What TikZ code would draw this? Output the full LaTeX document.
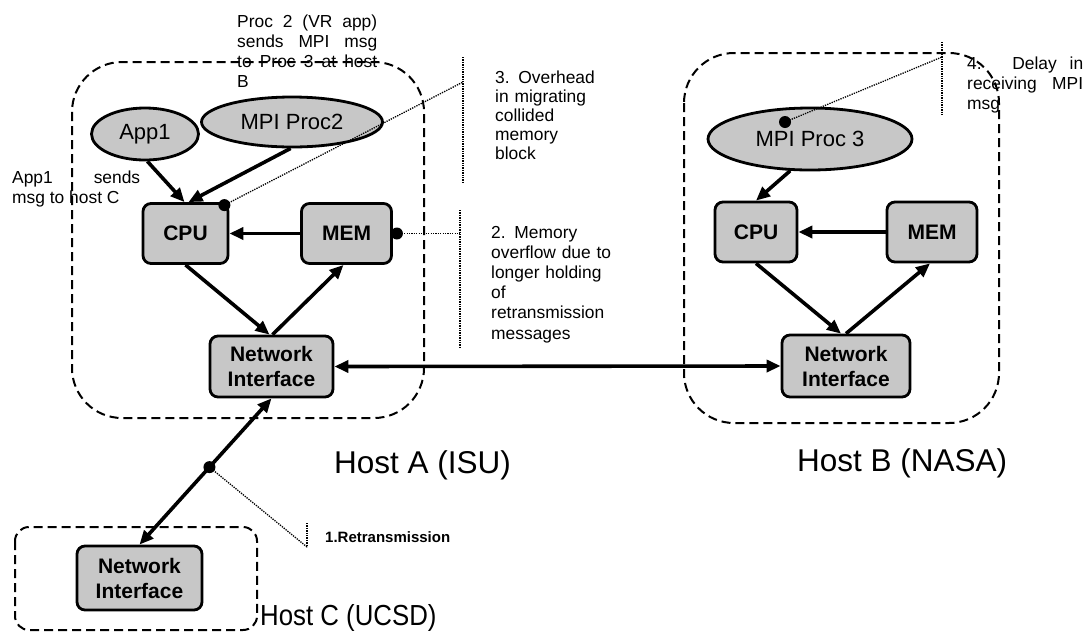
\documentclass[tikz,border=0pt]{standalone}
\usepackage{fontspec}
\usepackage{graphicx}
\setmainfont{Liberation Sans}
\usetikzlibrary{arrows.meta,shapes.geometric,calc}

\tikzset{
  unit/.style={draw, line width=2.8pt, fill=black!22, rounded corners=8pt,
    font=\fontsize{21}{25}\selectfont\bfseries, align=center, inner sep=0pt},
  proc/.style={ellipse, draw, line width=2.8pt, fill=black!22,
    font=\fontsize{22}{26}\selectfont, inner sep=0pt},
  link/.style={line width=3.6pt, -{Triangle[length=14pt,width=12pt]}},
  duplex/.style={line width=3.6pt,
    {Triangle[length=14pt,width=12pt]}-{Triangle[length=14pt,width=12pt]}},
  hostbox/.style={line width=2pt, dash pattern=on 9pt off 5pt},
  leader/.style={line width=1.3pt, dash pattern=on 1.3pt off 1.1pt},
  marker/.style={circle, fill=black, inner sep=0pt, minimum size=12pt},
  note/.style={font=\fontsize{17.4}{20}\selectfont, inner sep=0pt, anchor=base west},
  hostlabel/.style={font=\fontsize{31.5}{36}\selectfont, inner sep=0pt, anchor=west},
}

\begin{document}
\begin{tikzpicture}[x=1pt, y=-1pt]
\useasboundingbox (0,0) rectangle (1086,641);
\tolerance=10000

% host enclosures
\draw[hostbox, rounded corners=50pt] (72,62) rectangle (424,418);
\draw[hostbox, rounded corners=50pt] (684,53) rectangle (999,423);
\draw[hostbox, rounded corners=14pt] (15,527) rectangle (257,630);

% Host A
\node[proc, minimum width=107pt, minimum height=52pt] (app1) at (145,134) {App1};
\node[proc, minimum width=181pt, minimum height=50pt] (proc2) at (292,122) {MPI Proc2};
\node[unit, minimum width=85pt, minimum height=60pt] (cpuA) at (185.5,233.5) {CPU};
\node[unit, minimum width=90pt, minimum height=60pt] (memA) at (346.5,233.5) {MEM};
\node[unit, minimum width=123pt, minimum height=61pt] (netA) at (271.5,366.5) {Network\\Interface};

% Host B
\node[proc, minimum width=204pt, minimum height=62pt] (proc3) at (810,139) {MPI Proc 3};
\node[unit, minimum width=82pt, minimum height=60pt] (cpuB) at (756,232) {CPU};
\node[unit, minimum width=90pt, minimum height=60pt] (memB) at (932,232) {MEM};
\node[unit, minimum width=128pt, minimum height=62pt] (netB) at (846,366) {Network\\Interface};

% Host C
\node[unit, minimum width=125pt, minimum height=64pt] (netC) at (139.5,578) {Network\\Interface};

% data paths
\draw[link] (app1.-85) -- ([xshift=-1pt]cpuA.north);
\draw[link] (proc2.-93) -- ([xshift=3pt]cpuA.north);
\draw[link] (memA.west) -- (cpuA.east);
\draw[link] (cpuA.south) -- ([xshift=-2pt]netA.north);
\draw[link] ([xshift=1pt]netA.north) -- ([xshift=-3pt]memA.south);
\draw[duplex] (netA.east) -- (netB.west);
\draw[duplex] (netA.south) -- (netC.north);
\draw[link] (proc3.-122) -- (cpuB.north);
\draw[link] (memB.west) -- (cpuB.east);
\draw[link] (cpuB.south) -- ([xshift=-5pt]netB.north);
\draw[link] (netB.north) -- ([xshift=-2pt]memB.south);

% fault points and their callout leaders
\coordinate (m3) at ([xshift=-5pt,yshift=-3pt]cpuA.north east);
\coordinate (m2) at ([xshift=4pt]memA.east);
\coordinate (m4) at (785,122);
\coordinate (m1) at ($(netA.south)!0.47!(netC.north)$);

\coordinate (k3) at (463,82);  \coordinate (k3a) at (463,57);  \coordinate (k3b) at (463,183);
\coordinate (k2) at (460,233.5); \coordinate (k2a) at (460,210); \coordinate (k2b) at (460,348);
\coordinate (k4) at (942,57);  \coordinate (k4a) at (942,42);  \coordinate (k4b) at (942,115);
\coordinate (k1) at (307,547); \coordinate (k1a) at (307,523);

\draw[leader] (m3) -- (k3);  \draw[leader] (k3a) -- (k3b);
\draw[leader] (m2) -- (k2);  \draw[leader] (k2a) -- (k2b);
\draw[leader] (m4) -- (k4);  \draw[leader] (k4a) -- (k4b);
\draw[leader] (m1) -- (k1);  \draw[leader] (k1a) -- (k1);

\node[marker] (d3) at (m3) {};
\node[marker] (d2) at (m2) {};
\node[marker] (d4) at (m4) {};
\node[marker] (d1) at (m1) {};

% annotations
\node[note, text width=140pt, align=justify] (t0) at (237,27)
  {Proc 2 (VR app)\linebreak sends MPI msg\linebreak to Proc 3 at host\linebreak B};
\node[note, text width=128pt, align=justify] (t5) at (12,183)
  {App1 sends\linebreak msg to host C};
\node[note, text width=130pt, align=left, font=\fontsize{17.4}{19}\selectfont] (t3) at (495,83)
  {3. Overhead\\in migrating\\collided\\memory\\block};
\node[note, text width=130pt, align=left, font=\fontsize{17.4}{20.2}\selectfont] (t2) at (491,238)
  {2. Memory\\overflow due to\\longer holding\\of\\retransmission\\messages};
\begin{scope}
  \clip (950,30) rectangle (1086,112);
  \node[note, text width=116pt, align=justify] (t4) at (967,69)
    {4. Delay in\linebreak receiving MPI\linebreak msg};
\end{scope}
\node[note, font=\fontsize{15}{18}\selectfont\bfseries, anchor=west] (t1) at (325,537)
  {1.Retransmission};

% host names
\node[hostlabel] (hA) at (334,465) {Host A (ISU)};
\node[hostlabel] (hB) at (797,463) {Host B (NASA)};
\node[hostlabel, font=\fontsize{29}{34}\selectfont] (hC) at (260,618)
  {\scalebox{0.89}[1]{Host C (UCSD)}};
\end{tikzpicture}
\end{document}
